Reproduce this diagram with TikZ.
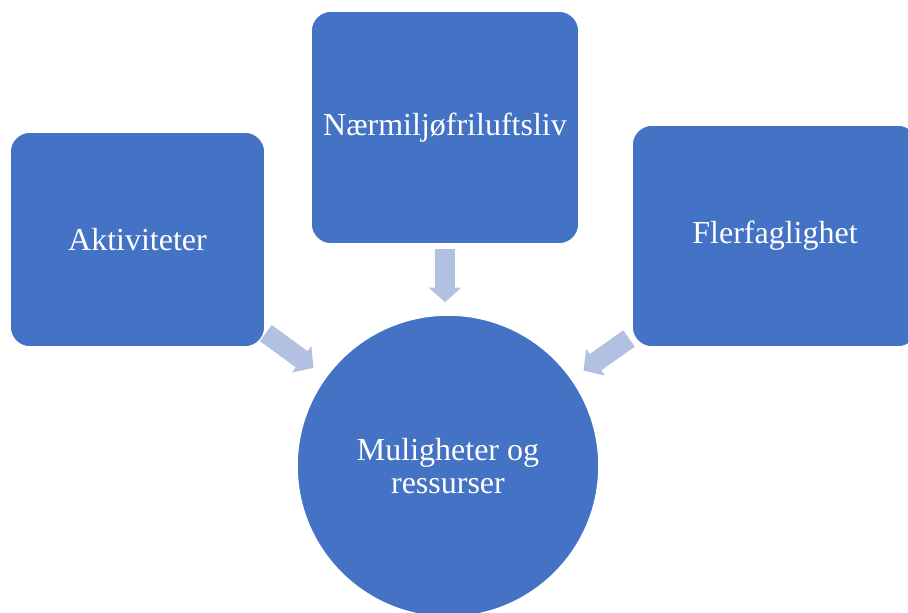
\documentclass[tikz,border=0pt]{standalone}
\usepackage{fontspec}
\setmainfont{Liberation Serif}
\usepackage{xcolor}
\usetikzlibrary{arrows.meta}
\definecolor{boxblue}{RGB}{68,114,196}
\definecolor{arrowblue}{RGB}{178,192,226}
\tikzset{topic node/.style={rectangle,rounded corners=15pt,fill=boxblue,draw=white,line width=1.2pt,
            text=white,inner sep=0pt,font=\fontsize{24}{25}\selectfont},
         goal node/.style={circle,fill=boxblue,draw=white,line width=1.2pt,minimum size=226.5pt,
            inner sep=0pt,text=white,align=center,font=\fontsize{24}{25}\selectfont},
         link arrow/.style={draw=arrowblue,line width=15pt,-{Triangle[width=24pt,length=11pt]}},
            }

\begin{document}
\begin{tikzpicture}[x=0.75pt,y=-0.75pt]
					\useasboundingbox (0,0) rectangle (908,612);
					\node[topic node,minimum width=191.25pt,minimum height=161.25pt] (akt) at (137.5,239.5) {Aktiviteter};
					\node[topic node,minimum width=201pt,minimum height=174.75pt] (naer) at (445,127.5) {Nærmiljøfriluftsliv};
					\node[topic node,minimum width=214.5pt,minimum height=166.5pt] (fler) at (775,236) {Flerfaglighet};
					\node[goal node] (mul) at (448,466) {Muligheter og\\ressurser};
					
					\draw[link arrow,shorten >=11pt] (akt) to (mul);
					\draw[link arrow,shorten <=3pt,shorten >=9pt] (naer.south) to (naer.south |- mul.north);
					\draw[link arrow,shorten <=2pt,shorten >=10.5pt] (fler) to (mul);
				\end{tikzpicture}
\end{document}
